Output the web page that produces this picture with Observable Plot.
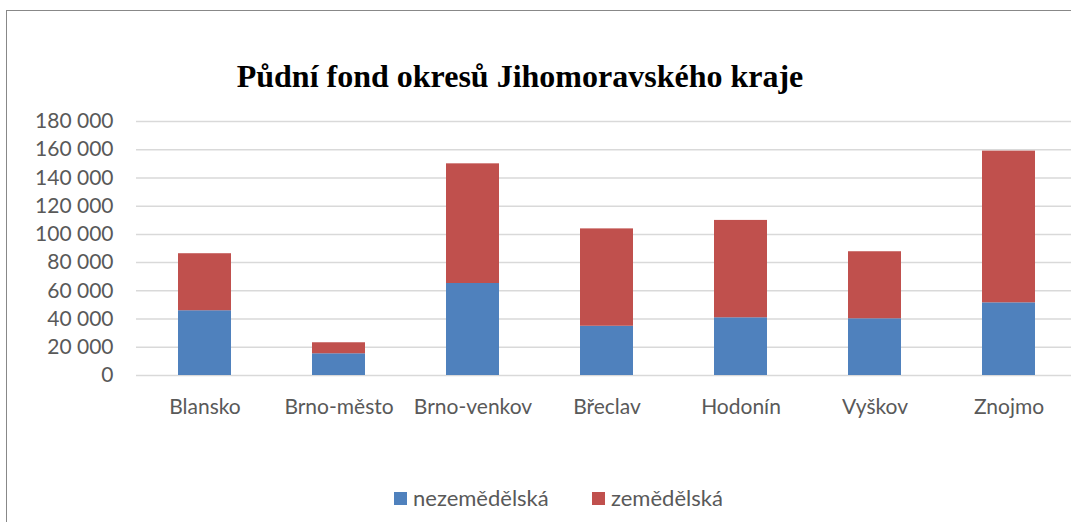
<!DOCTYPE html>
<html>
<head>
<meta charset="utf-8">
<script src="https://cdn.jsdelivr.net/npm/d3@7"></script>
<script src="https://cdn.jsdelivr.net/npm/@observablehq/plot@0.6"></script>
<style>
  html, body { margin: 0; padding: 0; background: #fff; overflow: hidden; width: 1071px; height: 522px; }
  #frame { position: absolute; left: 6px; top: 10px; width: 1100px; height: 600px; border: 1.5px solid #888; box-sizing: border-box; }
  #title { position: absolute; left: 0; top: 58px; width: 1040px; text-align: center; font-family: "Liberation Serif", "Times New Roman", serif; font-weight: bold; font-size: 32px; color: #000; white-space: nowrap; }
  #chart { position: absolute; left: 0; top: 0; width: 1090px; }
  #chart svg { max-width: none !important; }
  #legend { position: absolute; top: 484px; left: 0; width: 1071px; font-family: Lato, sans-serif; font-size: 22px; color: #595959; }
  .item { position: absolute; top: 0; white-space: nowrap; }
  .sw { display: inline-block; width: 13px; height: 13px; margin-right: 6px; vertical-align: 1px; }
</style>
</head>
<body>
<div id="frame"></div>
<div id="title">Půdní fond okresů Jihomoravského kraje</div>
<div id="chart"></div>
<div id="legend"></div>
<script>
const categories = ["Blansko", "Brno-město", "Brno-venkov", "Břeclav", "Hodonín", "Vyškov", "Znojmo"];
const seriesNames = ["nezemědělská", "zemědělská"];
const nezemedelska = [45900, 15400, 65200, 34900, 40900, 40200, 51500];
const zemedelska = [40400, 7800, 84800, 69000, 69000, 47500, 107500];
const yTicks = [0, 20000, 40000, 60000, 80000, 100000, 120000, 140000, 160000, 180000];
const colors = ["#4f81bd", "#c0504d"];

const data = [];
categories.forEach((c, i) => {
  data.push({district: c, series: seriesNames[0], value: nezemedelska[i]});
  data.push({district: c, series: seriesNames[1], value: zemedelska[i]});
});

const fmt = d => d3.format(",")(d).replace(/,/g, " ");

const chart = Plot.plot({
  width: 1090,
  height: 522,
  marginLeft: 136,
  marginRight: 12,
  marginTop: 121,
  marginBottom: 147,
  style: {fontFamily: "Lato, sans-serif", fontSize: "21px", color: "#595959", background: "transparent", overflow: "visible", maxWidth: "none"},
  x: {domain: categories, paddingInner: 0.604, paddingOuter: 0.302, label: null},
  y: {domain: [0, 180000], label: null},
  color: {domain: seriesNames, range: colors},
  marks: [
    Plot.gridY(yTicks, {stroke: "#d9d9d9", strokeOpacity: 1, strokeWidth: 1.5}),
    Plot.barY(data, {x: "district", y: "value", fill: "series"}),
    Plot.axisY(yTicks, {tickSize: 0, tickPadding: 23, tickFormat: fmt, fontSize: 21, label: null}),
    Plot.axisX({tickSize: 0, tickPadding: 24, fontSize: 21, label: null})
  ]
});
document.getElementById("chart").appendChild(chart);

const legend = document.getElementById("legend");
const lx = [394, 592];
seriesNames.forEach((s, i) => {
  const it = document.createElement("div");
  it.className = "item";
  it.style.left = lx[i] + "px";
  const sw = document.createElement("span");
  sw.className = "sw";
  sw.style.background = colors[i];
  it.appendChild(sw);
  it.appendChild(document.createTextNode(s));
  legend.appendChild(it);
});
</script>
</body>
</html>
